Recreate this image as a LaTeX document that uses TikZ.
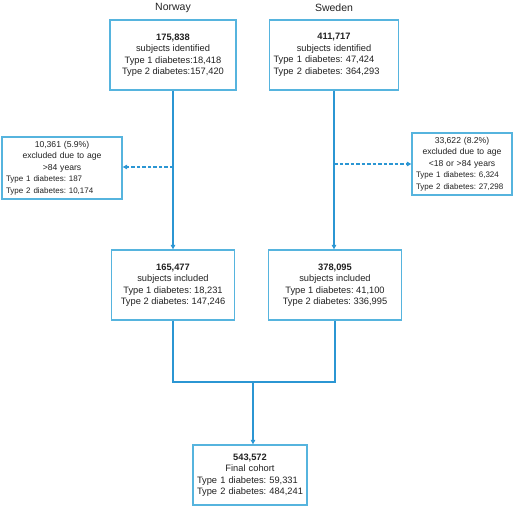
\documentclass[tikz,border=0pt]{standalone}
\usepackage{fontspec}
\setmainfont{Liberation Sans}
\usetikzlibrary{arrows.meta, positioning, calc}
\definecolor{boxBlue}{HTML}{56B4DE}
\definecolor{lineBlue}{HTML}{2B96D3}
\definecolor{textDark}{HTML}{222222}
\frenchspacing

\tikzset{
  flowbox/.style={draw=boxBlue, line width=1.3pt, fill=white, text=textDark,
    align=center, inner sep=4pt, font=\fontsize{9.3}{11.5}\selectfont},
  leftbox/.style={flowbox, align=left},
  exclbox/.style={leftbox, font=\fontsize{8.6}{11.5}\selectfont},
  country/.style={font=\fontsize{10.5}{12}\selectfont, text=textDark},
  flow/.style={draw=lineBlue, line width=1.8pt},
  skip/.style={draw=lineBlue, line width=1.2pt, dash pattern=on 3.5pt off 2pt}
}
\newcommand{\ctrline}[1]{\makebox[\linewidth]{#1}}
\newcommand{\smalltype}{\fontsize{8}{10.5}\selectfont}

\begin{document}
\begin{tikzpicture}[x=1pt, y=-1pt, >={Triangle[length=4.5pt, width=4.5pt]}]
  \useasboundingbox (0,0) rectangle (520,515);

  % titulos
  \node[country] (norway) at (173,8) {Norway};
  \node[country] (sweden) at (334,8) {Sweden};

  % identificados
  \node[flowbox, minimum width=126pt, minimum height=70pt] (nid) at (173,55)
    {\textbf{175,838}\\subjects identified\\Type 1 diabetes:18,418\\Type 2 diabetes:157,420};
  \node[leftbox, text width=121pt, minimum height=70pt] (sid) at (334,55)
    {\ctrline{\textbf{411,717}}\\\ctrline{subjects identified}\\Type 1 diabetes: 47,424\\Type 2 diabetes: 364,293};

  % excluidos
  \node[exclbox, text width=112pt, minimum height=60pt] (nexc) at (62,168)
    {\ctrline{10,361 (5.9\%)}\\\ctrline{excluded due to age}\\\ctrline{>84 years}\\
     {\smalltype Type 1 diabetes: 187}\\{\smalltype Type 2 diabetes: 10,174}};
  \node[exclbox, text width=92pt, minimum height=58pt] (sexc) at (462,164)
    {\ctrline{33,622 (8.2\%)}\\\ctrline{excluded due to age}\\\ctrline{<18 or >84 years}\\
     {\smalltype Type 1 diabetes: 6,324}\\{\smalltype Type 2 diabetes: 27,298}};

  % incluidos
  \node[flowbox, minimum width=123pt, minimum height=70pt] (ninc) at (173,285)
    {\textbf{165,477}\\subjects included\\Type 1 diabetes: 18,231\\Type 2 diabetes: 147,246};
  \node[flowbox, minimum width=133pt, minimum height=70pt] (sinc) at (335,285)
    {\textbf{378,095}\\subjects included\\Type 1 diabetes: 41,100\\Type 2 diabetes: 336,995};

  % cohorte final
  \node[leftbox, text width=106pt, inner xsep=4pt, minimum height=60pt] (final) at (250,475)
    {\ctrline{\textbf{543,572}}\\\ctrline{Final cohort}\\Type 1 diabetes: 59,331\\Type 2 diabetes: 484,241};

  % conexiones
  \coordinate (nsplit) at (nid.south |- 0,167);
  \coordinate (ssplit) at (sid.south |- 0,164);
  \coordinate (join) at (253,382);

  \draw[flow, ->] (nid.south) -- (nid.south |- ninc.north);
  \draw[flow, ->] (sid.south) -- (sid.south |- sinc.north);
  \draw[skip, ->] (nsplit) -- (nsplit -| nexc.east);
  \draw[skip, ->] (ssplit) -- (ssplit -| sexc.west);
  \draw[flow] (ninc.south) |- (join) -| (sinc.south);
  \draw[flow, ->] (join) -- (join |- final.north);
\end{tikzpicture}
\end{document}
